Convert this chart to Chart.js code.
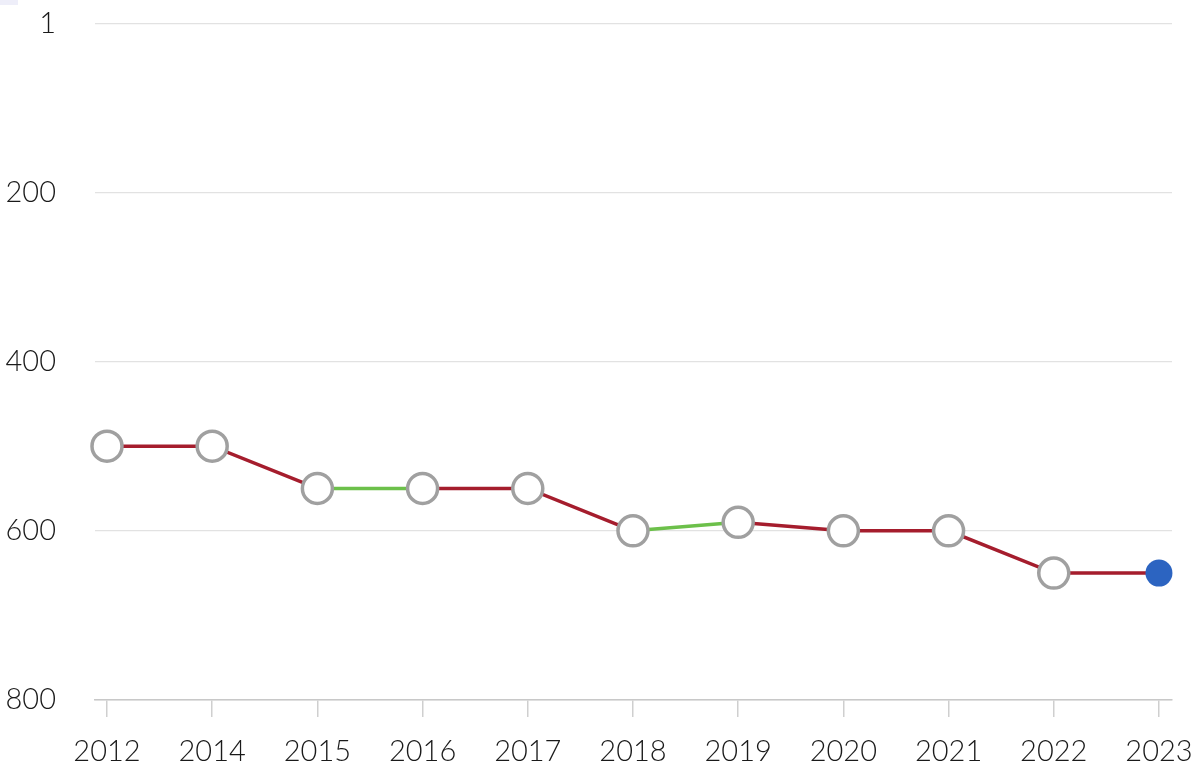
<!DOCTYPE html>
<html>
<head>
<meta charset="utf-8">
<script src="https://cdn.jsdelivr.net/npm/chart.js@4"></script>
<style>
  html, body { margin: 0; padding: 0; background: #fff; }
  #wrap { position: relative; width: 1200px; height: 784px; }
  #corner { position: absolute; left: 0; top: 0; width: 18px; height: 5px; background: #eeeef9; }
</style>
</head>
<body>
<div id="wrap">
  <canvas id="chart" width="1200" height="784"></canvas>
  <div id="corner"></div>
</div>
<script>
const years = ['2012', '2014', '2015', '2016', '2017', '2018', '2019', '2020', '2021', '2022', '2023'];
const ranks = [500, 500, 550, 550, 550, 600, 590, 600, 600, 650, 650];
// colour of the segment leaving each point
const segmentTrend = ['down', 'down', 'up', 'down', 'down', 'up', 'down', 'down', 'down', 'down'];
const yTicks = [1, 200, 400, 600, 800];

const RED = '#a51d2d';
const GREEN = '#6cc04a';
const last = ranks.length - 1;
const tickFont = { family: 'Lato', size: 29, weight: '300' };

const canvas = document.getElementById('chart');

new Chart(canvas, {
  type: 'line',
  data: {
    datasets: [{
      data: ranks.map((v, i) => ({ x: i, y: v })),
      clip: false,
      borderWidth: 3.5,
      segment: {
        borderColor: ctx => segmentTrend[ctx.p0DataIndex] === 'up' ? GREEN : RED
      },
      borderColor: RED,
      pointRadius: ranks.map((_, i) => i === last ? 13.5 : 15),
      pointBorderWidth: ranks.map((_, i) => i === last ? 0 : 3.5),
      pointBackgroundColor: ranks.map((_, i) => i === last ? '#2c64c1' : '#ffffff'),
      pointBorderColor: ranks.map((_, i) => i === last ? '#2c64c1' : '#a0a0a0'),
      tension: 0
    }]
  },
  options: {
    responsive: false,
    animation: false,
    layout: { padding: { top: 24, right: 28, left: 0, bottom: 0 } },
    plugins: { legend: { display: false }, tooltip: { enabled: false } },
    scales: {
      x: {
        type: 'linear',
        min: -0.114,
        max: 10.124,
        afterBuildTicks: scale => { scale.ticks = years.map((_, i) => ({ value: i })); },
        afterFit: scale => {
          scale.height = 84;
          scale.paddingLeft = 0;
          scale.paddingRight = 0;
        },
        ticks: {
          callback: v => years[v],
          color: '#1a1a1a',
          padding: 17,
          maxRotation: 0,
          autoSkip: false,
          font: tickFont
        },
        grid: { drawOnChartArea: false, drawTicks: true, tickLength: 17, color: '#cfcfcf', lineWidth: 1.5 },
        border: { color: '#c8c8c8', width: 1.5 }
      },
      y: {
        type: 'linear',
        reverse: true,
        min: 1,
        max: 800,
        afterBuildTicks: scale => { scale.ticks = yTicks.map(v => ({ value: v })); },
        afterFit: scale => {
          scale.width = 95;
          scale.paddingTop = 0;
          scale.paddingBottom = 0;
        },
        ticks: {
          color: '#1a1a1a',
          padding: 39,
          font: tickFont
        },
        grid: { drawTicks: false, color: '#e2e2e2', lineWidth: 1.2 },
        border: { display: false }
      }
    }
  }
});
</script>
</body>
</html>
